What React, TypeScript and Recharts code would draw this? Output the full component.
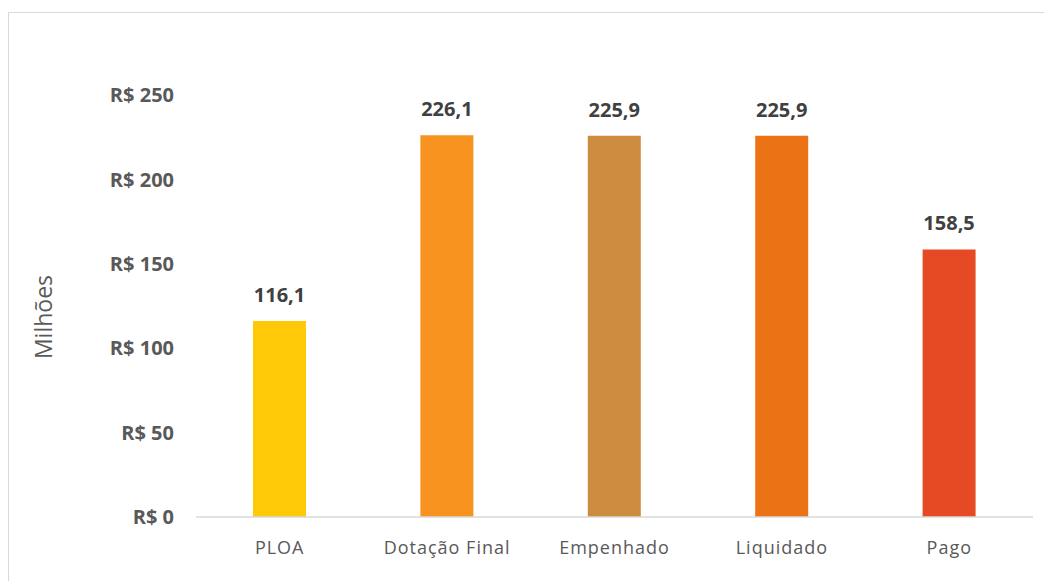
import React from "react";
import { BarChart, Bar, XAxis, YAxis, LabelList, Cell } from "recharts";

const categories = ["PLOA", "Dotação Final", "Empenhado", "Liquidado", "Pago"];
const values = [116.1, 226.1, 225.9, 225.9, 158.5];
const colors = ["#FFC908", "#F7931E", "#CD8B40", "#EC7216", "#E64A24"];
const yTicks = [0, 50, 100, 150, 200, 250];

const data = categories.map((name, i) => ({ name, value: values[i] }));

const font = "'Open Sans', 'Liberation Sans', sans-serif";

export default function App() {
    return (
        <div
            style={{
                marginTop: 4,
                width: 1043,
                height: 568,
                borderLeft: "1px solid #d9d9d9",
                borderTop: "1px solid #d9d9d9",
                fontFamily: font,
            }}
        >
            <BarChart
                width={1043}
                height={568}
                data={data}
                margin={{ top: 82, right: 19, bottom: 24, left: 0 }}
            >
                <XAxis
                    dataKey="name"
                    axisLine={{ stroke: "#d9d9d9", strokeWidth: 1.5 }}
                    tickLine={false}
                    height={40}
                    tickMargin={18}
                    tick={{ fill: "#595959", fontSize: 18, fontFamily: font, letterSpacing: 1 }}
                />
                <YAxis
                    domain={[0, 250]}
                    ticks={yTicks}
                    width={187}
                    axisLine={false}
                    tickLine={false}
                    tickMargin={16}
                    tickFormatter={(v: number) => `R$ ${v}`}
                    tick={{ fill: "#595959", fontSize: 20, fontWeight: 700, fontFamily: font }}
                    label={{
                        value: "Milhões",
                        angle: -90,
                        position: "center",
                        dx: -59,
                        dy: 11,
                        style: { fill: "#595959", fontSize: 23, fontFamily: font },
                    }}
                />
                <Bar dataKey="value" barSize={53} isAnimationActive={false}>
                    {data.map((d, i) => (
                        <Cell key={d.name} fill={colors[i]} />
                    ))}
                    <LabelList
                        dataKey="value"
                        position="top"
                        offset={19}
                        formatter={(v: number) => v.toFixed(1).replace(".", ",")}
                        style={{ fill: "#404040", fontSize: 20, fontWeight: 700, fontFamily: font }}
                    />
                </Bar>
            </BarChart>
        </div>
    );
}
